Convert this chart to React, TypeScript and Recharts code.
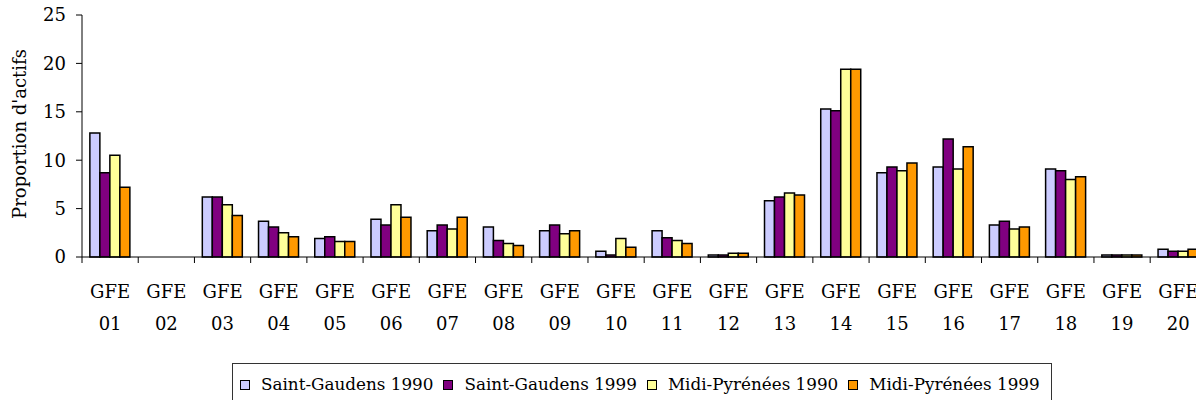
import React from 'react';
import { BarChart, Bar, XAxis, YAxis } from 'recharts';

const categories = [
  'GFE 01', 'GFE 02', 'GFE 03', 'GFE 04', 'GFE 05', 'GFE 06', 'GFE 07', 'GFE 08', 'GFE 09', 'GFE 10',
  'GFE 11', 'GFE 12', 'GFE 13', 'GFE 14', 'GFE 15', 'GFE 16', 'GFE 17', 'GFE 18', 'GFE 19', 'GFE 20',
];
const saintGaudens1990 = [12.8, 0, 6.2, 3.7, 1.9, 3.9, 2.7, 3.1, 2.7, 0.6, 2.7, 0.2, 5.8, 15.3, 8.7, 9.3, 3.3, 9.1, 0.2, 0.8];
const saintGaudens1999 = [8.7, 0, 6.2, 3.1, 2.1, 3.3, 3.3, 1.7, 3.3, 0.2, 2.0, 0.2, 6.2, 15.1, 9.3, 12.2, 3.7, 8.9, 0.2, 0.6];
const midiPyrenees1990 = [10.5, 0, 5.4, 2.5, 1.6, 5.4, 2.9, 1.4, 2.4, 1.9, 1.7, 0.4, 6.6, 19.4, 8.9, 9.1, 2.9, 8.0, 0.2, 0.6];
const midiPyrenees1999 = [7.2, 0, 4.3, 2.1, 1.6, 4.1, 4.1, 1.2, 2.7, 1.0, 1.4, 0.4, 6.4, 19.4, 9.7, 11.4, 3.1, 8.3, 0.2, 0.8];
const yTicks = [0, 5, 10, 15, 20, 25];
const yLabel = "Proportion d'actifs";

const series = [
  { key: 'sg1990', name: 'Saint-Gaudens 1990', color: '#CCCCFF', values: saintGaudens1990 },
  { key: 'sg1999', name: 'Saint-Gaudens 1999', color: '#800080', values: saintGaudens1999 },
  { key: 'mp1990', name: 'Midi-Pyrénées 1990', color: '#FFFF99', values: midiPyrenees1990 },
  { key: 'mp1999', name: 'Midi-Pyrénées 1999', color: '#FF9900', values: midiPyrenees1999 },
];

const data = categories.map((name, i) => {
  const row: Record<string, any> = { name };
  series.forEach((s) => {
    row[s.key] = s.values[i];
  });
  return row;
});

const FONT = "'DejaVu Serif', 'Liberation Serif', serif";
const FS = 18;
const LEGEND_FS = 16.8;

const XTick = (props: any) => {
  const { x, y, payload, index, width, visibleTicksCount } = props;
  const half =
    payload && typeof payload.offset === 'number' && payload.offset > 0
      ? payload.offset
      : width / (visibleTicksCount || categories.length) / 2;
  const parts = String(payload.value).split(' ');
  const isLast = index === categories.length - 1;
  return (
    <g>
      <line x1={x - half} x2={x - half} y1={y} y2={y + 6} stroke="#000" strokeWidth={1} />
      {isLast && <line x1={x + half} x2={x + half} y1={y} y2={y + 6} stroke="#000" strokeWidth={1} />}
      <text x={x} y={y + 41} textAnchor="middle" fontSize={FS} fill="#000" fontFamily={FONT}>
        {parts[0]}
      </text>
      <text x={x} y={y + 73} textAnchor="middle" fontSize={FS} fill="#000" fontFamily={FONT}>
        {parts[1]}
      </text>
    </g>
  );
};

const YLabel = (props: any) => {
  const vb = props.viewBox || {};
  const cx = 19;
  const cy = (vb.y ?? 0) + (vb.height ?? 0) / 2 - 2;
  return (
    <text
      x={cx}
      y={cy}
      transform={`rotate(-90, ${cx}, ${cy})`}
      textAnchor="middle"
      dominantBaseline="central"
      fontSize={FS}
      fill="#000"
      fontFamily={FONT}
    >
      {yLabel}
    </text>
  );
};

export default function App() {
  return (
    <div
      style={{
        position: 'fixed',
        left: 0,
        top: 0,
        width: 1196,
        height: 400,
        overflow: 'hidden',
        fontFamily: FONT,
        background: '#fff',
      }}
    >
      <BarChart
        width={1218}
        height={400}
        data={data}
        margin={{ top: 15, right: 11.6, left: 8, bottom: 23 }}
        barCategoryGap="14%"
        barGap={0}
      >
        <XAxis
          dataKey="name"
          interval={0}
          height={120}
          tickLine={false}
          tickSize={0}
          tickMargin={0}
          axisLine={{ stroke: '#000', strokeWidth: 1 }}
          tick={<XTick />}
          padding={{ left: 0, right: 0 }}
        />
        <YAxis
          width={74}
          domain={[0, 25]}
          ticks={yTicks}
          interval={0}
          tickSize={6}
          tickMargin={10}
          axisLine={{ stroke: '#000', strokeWidth: 1 }}
          tickLine={{ stroke: '#000', strokeWidth: 1 }}
          tick={{ fill: '#000', fontSize: FS, fontFamily: FONT }}
          label={<YLabel />}
        />
        {series.map((s) => (
          <Bar
            key={s.key}
            dataKey={s.key}
            name={s.name}
            fill={s.color}
            stroke="#000"
            strokeWidth={1.5}
            isAnimationActive={false}
          />
        ))}
      </BarChart>
      <div
        style={{
          position: 'absolute',
          left: 232,
          top: 363,
          width: 820,
          height: 50,
          border: '1px solid #333',
          background: '#fff',
          boxSizing: 'border-box',
          display: 'flex',
          alignItems: 'flex-start',
          paddingLeft: 7,
          paddingTop: 10,
          fontSize: LEGEND_FS,
          lineHeight: '21px',
          color: '#000',
          fontFamily: FONT,
          whiteSpace: 'nowrap',
        }}
      >
        {series.map((s) => (
          <div key={s.key} style={{ display: 'flex', alignItems: 'center', marginRight: 10 }}>
            <span
              style={{
                display: 'inline-block',
                width: 8,
                height: 8,
                border: '1px solid #000',
                background: s.color,
                marginRight: 11,
              }}
            />
            <span>{s.name}</span>
          </div>
        ))}
      </div>
    </div>
  );
}
